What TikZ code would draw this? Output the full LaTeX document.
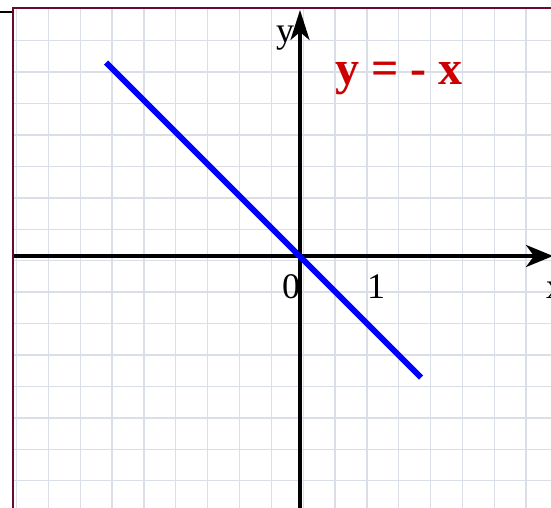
\documentclass[tikz,border=0pt]{standalone}
\usepackage{fontspec}
\setmainfont{Liberation Serif}
\usetikzlibrary{arrows.meta}
\definecolor{gridc}{RGB}{218,222,231}
\definecolor{borderc}{RGB}{105,10,50}
\definecolor{titlered}{RGB}{204,0,0}
\tikzset{
  gridline/.style={draw=gridc, line width=1.3pt},
  borderline/.style={draw=borderc, line width=2.4pt},
  axisline/.style={draw=black, line width=3.4pt},
  yaxistip/.style={-{Stealth[length=30pt,width=19pt,inset=8pt]}},
  xaxistip/.style={-{Stealth[length=27pt,width=22pt,inset=8pt]}},
  graphline/.style={draw=blue, line width=6pt},
  axlabel/.style={font=\fontsize{36}{36}\selectfont, inner sep=0pt, anchor=base},
  titlelabel/.style={font=\fontsize{48}{48}\selectfont\bfseries, text=titlered, inner sep=0pt, anchor=base west}
}
\begin{document}
\begin{tikzpicture}[x=1pt,y=-1pt]
\useasboundingbox (0,0) rectangle (551,508);
\fill[white] (0,0) rectangle (551,508);
% grid
\foreach \i in {0,...,16}
  \draw[gridline] ({16.5+31.85*\i},9) -- ({16.5+31.85*\i},508);
\foreach \j in {0,...,14}
  \draw[gridline] (13,{40.7+31.43*\j}) -- (551,{40.7+31.43*\j});
% frame
\coordinate (fbl) at (13,508);
\coordinate (ftl) at (13,8.3);
\coordinate (ftr) at (551,8.3);
\draw[borderline] (fbl) -- (ftl) -- (ftr);
\coordinate (stubl) at (0,11.8);
\coordinate (stubr) at (12,11.8);
\draw[black, line width=1.8pt] (stubl) -- (stubr);
% axes
\coordinate (xstart) at (14,256);
\coordinate (xend) at (553,256);
\coordinate (ystart) at (300,508);
\coordinate (yend) at (300,10);
\draw[axisline, xaxistip] (xstart) -- (xend);
\draw[axisline, yaxistip] (ystart) -- (yend);
% graph y = -x
\coordinate (gstart) at (106,62.5);
\coordinate (gend) at (421,377.5);
\draw[graphline] (gstart) -- (gend);
% labels
\node[axlabel] (ylab) at (285,43) {y};
\node[axlabel] (xlab) at (555,298) {x};
\node[axlabel] (zero) at (291,298) {0};
\node[axlabel] (one) at (376,298) {1};
\node[titlelabel] (title) at (335,85) {y = - x};
\end{tikzpicture}
\end{document}
